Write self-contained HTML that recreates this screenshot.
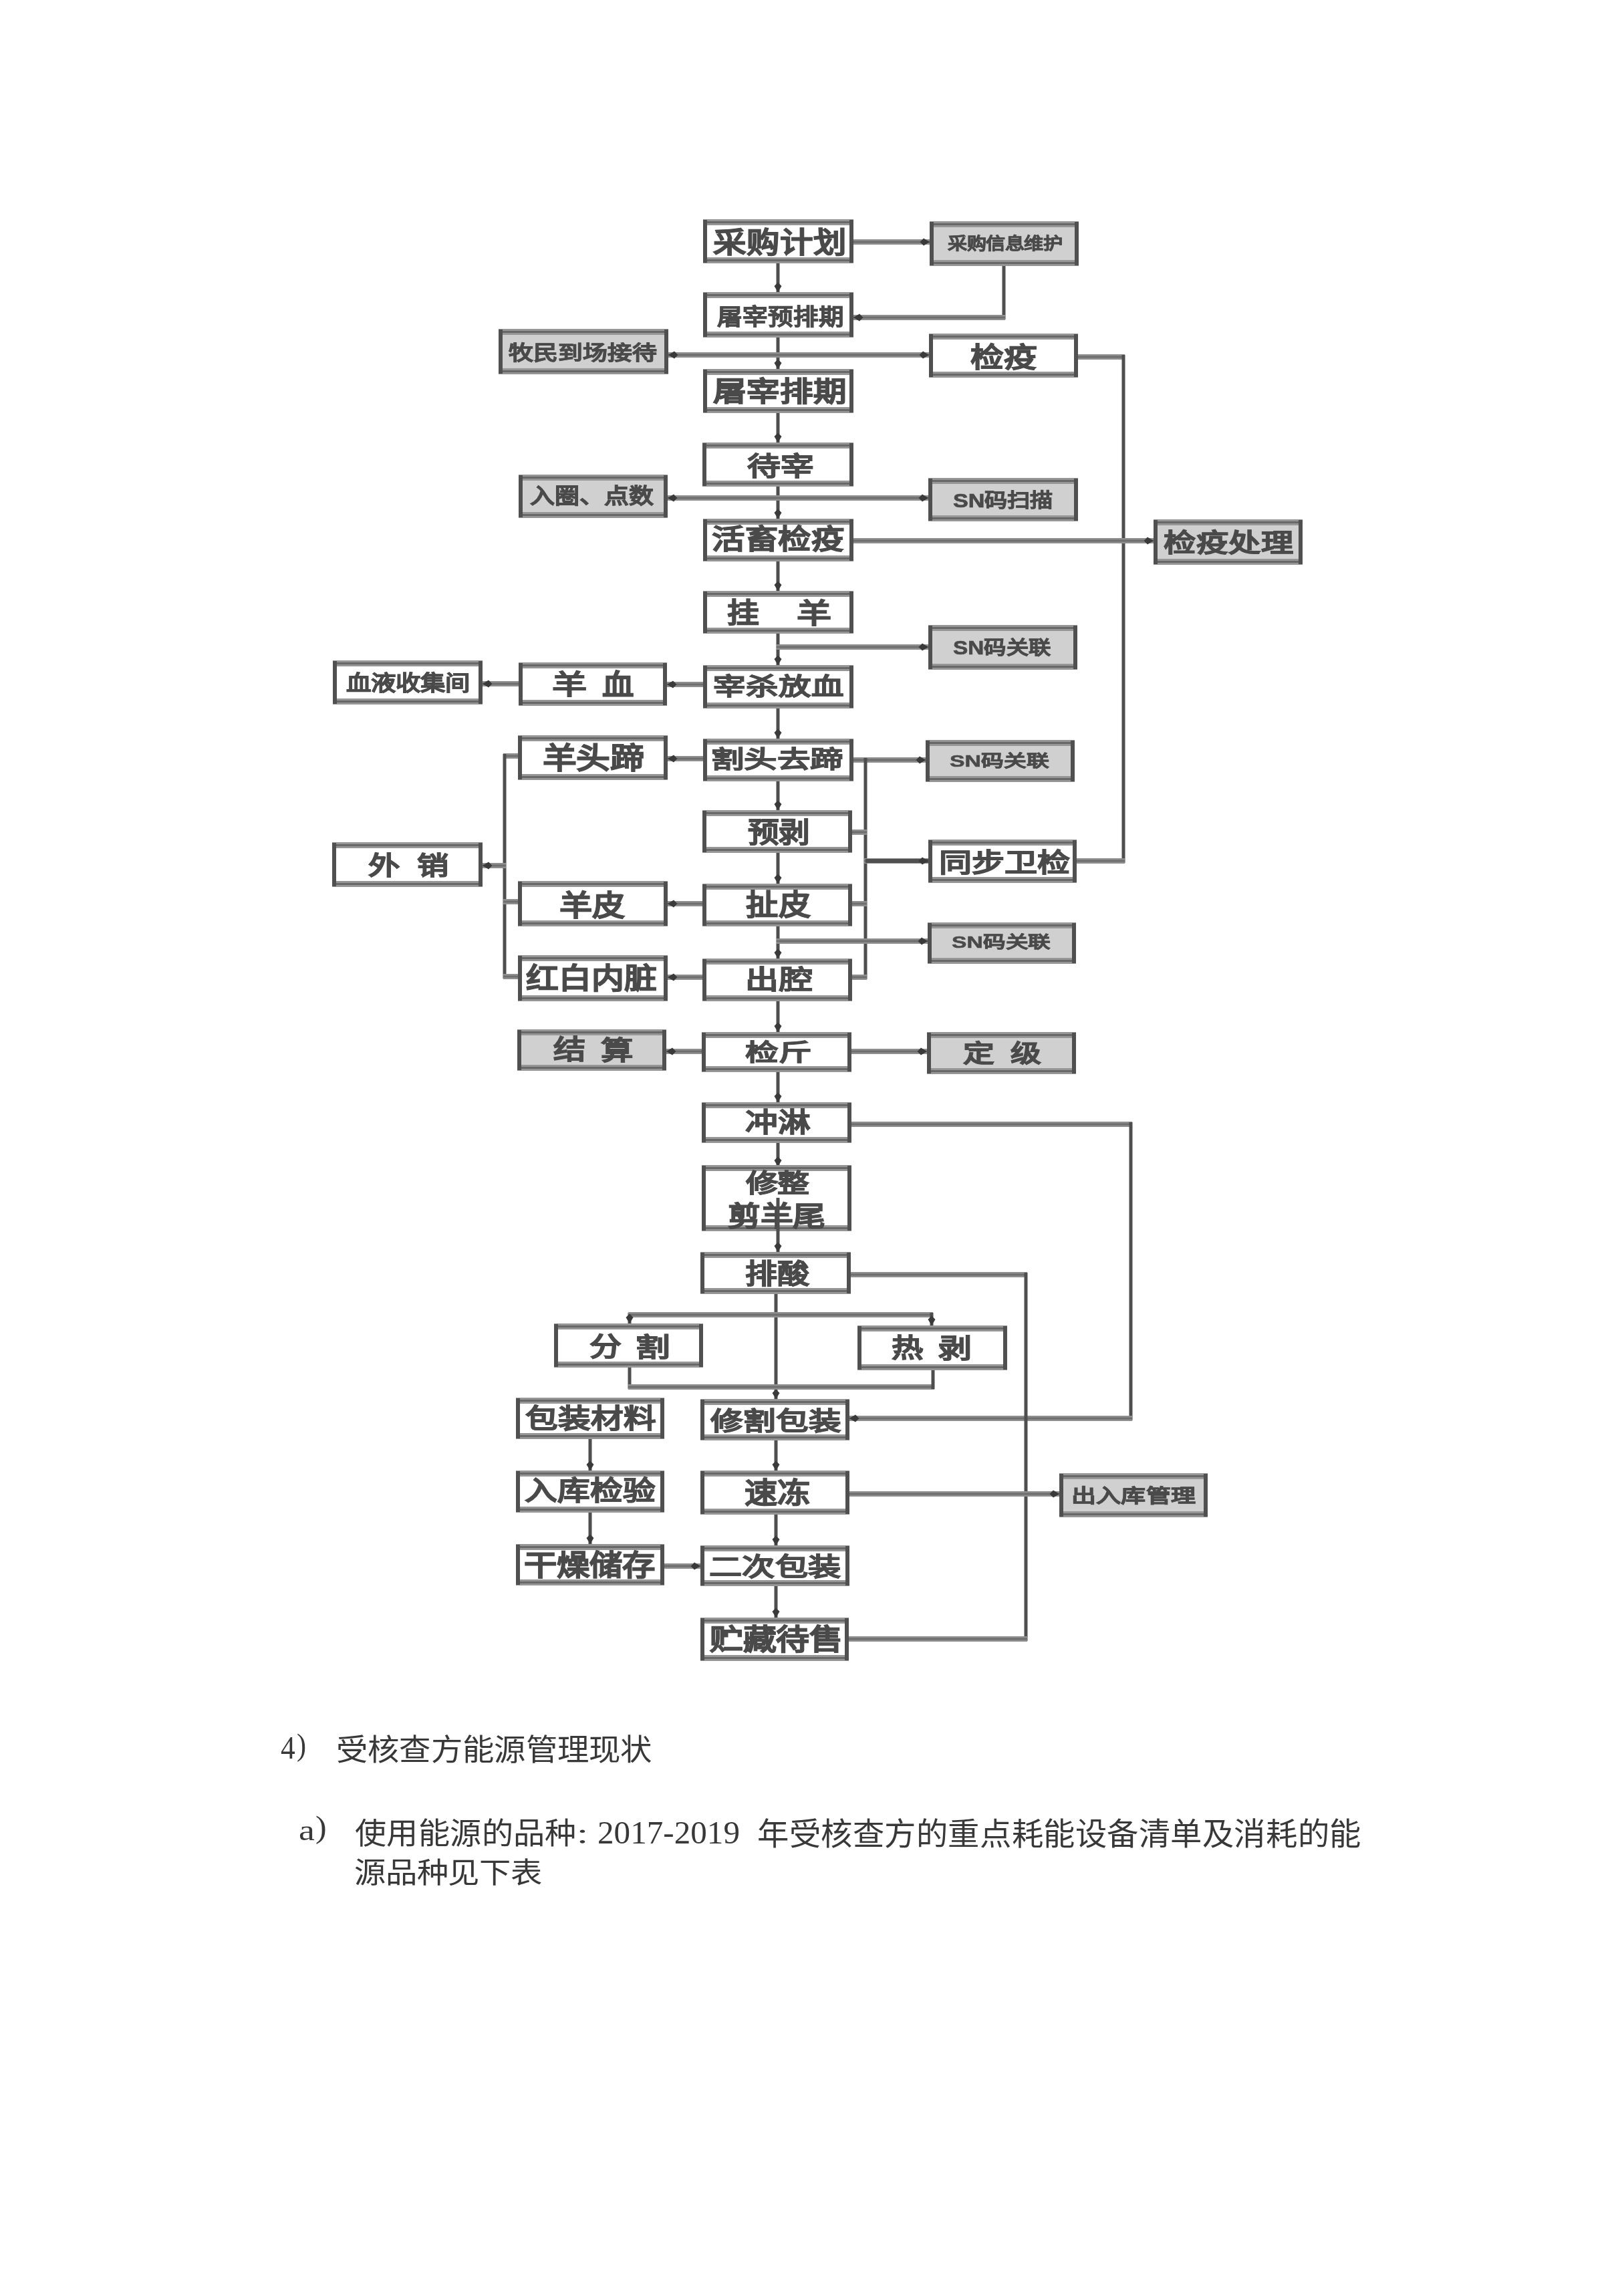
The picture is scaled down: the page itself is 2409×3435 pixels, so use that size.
<!DOCTYPE html>
<html lang="zh-CN"><head><meta charset="utf-8"><title>page</title>
<style>
html,body{margin:0;padding:0;background:#fff;}
#pg{position:relative;width:2409px;height:3435px;overflow:hidden;background:#ffffff;filter:blur(0.7px);}
svg.ln{position:absolute;left:0;top:0;}
.b{position:absolute;box-sizing:border-box;background:#fff;border-style:solid;border-color:#8c8c8c #4a4a4a #8c8c8c #4a4a4a;border-width:8px 5px 9px 5px;}
.g{background:#d0d0d0;}
.x{position:absolute;white-space:nowrap;line-height:1;transform-origin:0 0;font-family:"Liberation Sans",sans-serif;font-weight:bold;color:#4a4a4a;-webkit-text-stroke:1.2px #4a4a4a;}
.t{position:absolute;white-space:nowrap;line-height:1;transform-origin:0 0;font-family:"Liberation Serif",serif;font-weight:normal;color:#383838;}
</style></head><body><div id="pg">

<svg class="ln" width="2409" height="3435" viewBox="0 0 2409 3435"><rect x="1161.5" y="391" width="5" height="49" fill="#4e4e4e"/><rect x="1161.5" y="502" width="5" height="53" fill="#4e4e4e"/><rect x="1161.5" y="615" width="5" height="50" fill="#4e4e4e"/><rect x="1161.5" y="725" width="5" height="54" fill="#4e4e4e"/><rect x="1161.5" y="837" width="5" height="50" fill="#4e4e4e"/><rect x="1161.5" y="945" width="5" height="53" fill="#4e4e4e"/><rect x="1161.5" y="1057" width="5" height="51" fill="#4e4e4e"/><rect x="1161.5" y="1166" width="5" height="49" fill="#4e4e4e"/><rect x="1161.5" y="1273" width="5" height="52" fill="#4e4e4e"/><rect x="1161.5" y="1383" width="5" height="54" fill="#4e4e4e"/><rect x="1161.5" y="1495" width="5" height="52" fill="#4e4e4e"/><rect x="1161.5" y="1601" width="5" height="51" fill="#4e4e4e"/><rect x="1161.5" y="1707" width="5" height="41" fill="#4e4e4e"/><rect x="1161.5" y="1797" width="5" height="79" fill="#4e4e4e"/><rect x="1158.5" y="1933" width="5" height="163" fill="#4e4e4e"/><rect x="1158.5" y="2152" width="5" height="51" fill="#4e4e4e"/><rect x="1158.5" y="2263" width="5" height="52" fill="#4e4e4e"/><rect x="1158.5" y="2370" width="5" height="53" fill="#4e4e4e"/><rect x="880.5" y="2150" width="5" height="53" fill="#4e4e4e"/><rect x="880.5" y="2260" width="5" height="53" fill="#4e4e4e"/><rect x="992" y="2339" width="58" height="8" fill="#8f8f8f"/><rect x="992" y="2341.5" width="58" height="3" fill="#6e6e6e"/><rect x="1275" y="358" width="118" height="8" fill="#8f8f8f"/><rect x="1275" y="360.5" width="118" height="3" fill="#6e6e6e"/><rect x="1499.5" y="395" width="5" height="83" fill="#4e4e4e"/><rect x="1275" y="471" width="229" height="8" fill="#8f8f8f"/><rect x="1275" y="473.5" width="229" height="3" fill="#6e6e6e"/><rect x="998" y="527" width="394" height="8" fill="#8f8f8f"/><rect x="998" y="529.5" width="394" height="3" fill="#6e6e6e"/><rect x="1611" y="530" width="72" height="8" fill="#8f8f8f"/><rect x="1611" y="532.5" width="72" height="3" fill="#6e6e6e"/><rect x="1678.5" y="531" width="5" height="760" fill="#4e4e4e"/><rect x="1609" y="1284" width="74" height="8" fill="#8f8f8f"/><rect x="1609" y="1286.5" width="74" height="3" fill="#6e6e6e"/><rect x="1275" y="805" width="453" height="8" fill="#8f8f8f"/><rect x="1275" y="807.5" width="453" height="3" fill="#6e6e6e"/><rect x="997" y="741" width="394" height="8" fill="#8f8f8f"/><rect x="997" y="743.5" width="394" height="3" fill="#6e6e6e"/><rect x="1162" y="964" width="229" height="8" fill="#8f8f8f"/><rect x="1162" y="966.5" width="229" height="3" fill="#6e6e6e"/><rect x="996" y="1020" width="58" height="8" fill="#8f8f8f"/><rect x="996" y="1022.5" width="58" height="3" fill="#6e6e6e"/><rect x="720" y="1019" width="58" height="8" fill="#8f8f8f"/><rect x="720" y="1021.5" width="58" height="3" fill="#6e6e6e"/><rect x="997" y="1131" width="57" height="8" fill="#8f8f8f"/><rect x="997" y="1133.5" width="57" height="3" fill="#6e6e6e"/><rect x="1275" y="1133" width="112" height="8" fill="#8f8f8f"/><rect x="1275" y="1135.5" width="112" height="3" fill="#6e6e6e"/><rect x="1292.5" y="1134" width="5" height="331" fill="#4e4e4e"/><rect x="1273" y="1458" width="24" height="8" fill="#8f8f8f"/><rect x="1273" y="1460.5" width="24" height="3" fill="#6e6e6e"/><rect x="1273" y="1241" width="24" height="8" fill="#8f8f8f"/><rect x="1273" y="1243.5" width="24" height="3" fill="#6e6e6e"/><rect x="1273" y="1348" width="24" height="8" fill="#8f8f8f"/><rect x="1273" y="1350.5" width="24" height="3" fill="#6e6e6e"/><rect x="1293" y="1284" width="98" height="8" fill="#8f8f8f"/><rect x="1293" y="1286.5" width="98" height="3" fill="#6e6e6e"/><rect x="1162" y="1404" width="228" height="8" fill="#8f8f8f"/><rect x="1162" y="1406.5" width="228" height="3" fill="#6e6e6e"/><rect x="997" y="1348" width="56" height="8" fill="#8f8f8f"/><rect x="997" y="1350.5" width="56" height="3" fill="#6e6e6e"/><rect x="997" y="1458" width="56" height="8" fill="#8f8f8f"/><rect x="997" y="1460.5" width="56" height="3" fill="#6e6e6e"/><rect x="753" y="1127" width="24" height="8" fill="#8f8f8f"/><rect x="753" y="1129.5" width="24" height="3" fill="#6e6e6e"/><rect x="752.5" y="1128" width="5" height="336" fill="#4e4e4e"/><rect x="753" y="1457" width="24" height="8" fill="#8f8f8f"/><rect x="753" y="1459.5" width="24" height="3" fill="#6e6e6e"/><rect x="753" y="1345" width="24" height="8" fill="#8f8f8f"/><rect x="753" y="1347.5" width="24" height="3" fill="#6e6e6e"/><rect x="720" y="1291" width="37" height="8" fill="#8f8f8f"/><rect x="720" y="1293.5" width="37" height="3" fill="#6e6e6e"/><rect x="995" y="1569" width="57" height="8" fill="#8f8f8f"/><rect x="995" y="1571.5" width="57" height="3" fill="#6e6e6e"/><rect x="1272" y="1569" width="117" height="8" fill="#8f8f8f"/><rect x="1272" y="1571.5" width="117" height="3" fill="#6e6e6e"/><rect x="1272" y="1678" width="422" height="8" fill="#8f8f8f"/><rect x="1272" y="1680.5" width="422" height="3" fill="#6e6e6e"/><rect x="1689.5" y="1679" width="5" height="446" fill="#4e4e4e"/><rect x="1269" y="2118" width="425" height="8" fill="#8f8f8f"/><rect x="1269" y="2120.5" width="425" height="3" fill="#6e6e6e"/><rect x="1271" y="1903" width="266" height="8" fill="#8f8f8f"/><rect x="1271" y="1905.5" width="266" height="3" fill="#6e6e6e"/><rect x="1532.5" y="1904" width="5" height="551" fill="#4e4e4e"/><rect x="1268" y="2448" width="269" height="8" fill="#8f8f8f"/><rect x="1268" y="2450.5" width="269" height="3" fill="#6e6e6e"/><rect x="1533" y="2231" width="54" height="8" fill="#8f8f8f"/><rect x="1533" y="2233.5" width="54" height="3" fill="#6e6e6e"/><rect x="1269" y="2231" width="268" height="8" fill="#8f8f8f"/><rect x="1269" y="2233.5" width="268" height="3" fill="#6e6e6e"/><rect x="939.5" y="1964" width="5" height="19" fill="#4e4e4e"/><rect x="940" y="1963" width="456" height="8" fill="#8f8f8f"/><rect x="940" y="1965.5" width="456" height="3" fill="#6e6e6e"/><rect x="1391.5" y="1964" width="5" height="22" fill="#4e4e4e"/><rect x="939.5" y="2043" width="5" height="35" fill="#4e4e4e"/><rect x="940" y="2071" width="458" height="8" fill="#8f8f8f"/><rect x="940" y="2073.5" width="458" height="3" fill="#6e6e6e"/><rect x="1393.5" y="2047" width="5" height="31" fill="#4e4e4e"/><rect x="1295" y="1285" width="94" height="6" fill="#505050"/><polygon points="1164.0,437.0 1158.5,428.0 1164.0,422.6 1169.5,428.0" fill="#3a3a3a"/><polygon points="1164.0,552.0 1158.5,543.0 1164.0,537.6 1169.5,543.0" fill="#3a3a3a"/><polygon points="1164.0,662.0 1158.5,653.0 1164.0,647.6 1169.5,653.0" fill="#3a3a3a"/><polygon points="1164.0,776.0 1158.5,767.0 1164.0,761.6 1169.5,767.0" fill="#3a3a3a"/><polygon points="1164.0,884.0 1158.5,875.0 1164.0,869.6 1169.5,875.0" fill="#3a3a3a"/><polygon points="1164.0,995.0 1158.5,986.0 1164.0,980.6 1169.5,986.0" fill="#3a3a3a"/><polygon points="1164.0,1105.0 1158.5,1096.0 1164.0,1090.6 1169.5,1096.0" fill="#3a3a3a"/><polygon points="1164.0,1212.0 1158.5,1203.0 1164.0,1197.6 1169.5,1203.0" fill="#3a3a3a"/><polygon points="1164.0,1322.0 1158.5,1313.0 1164.0,1307.6 1169.5,1313.0" fill="#3a3a3a"/><polygon points="1164.0,1434.0 1158.5,1425.0 1164.0,1419.6 1169.5,1425.0" fill="#3a3a3a"/><polygon points="1164.0,1544.0 1158.5,1535.0 1164.0,1529.6 1169.5,1535.0" fill="#3a3a3a"/><polygon points="1164.0,1649.0 1158.5,1640.0 1164.0,1634.6 1169.5,1640.0" fill="#3a3a3a"/><polygon points="1164.0,1745.0 1158.5,1736.0 1164.0,1730.6 1169.5,1736.0" fill="#3a3a3a"/><polygon points="1164.0,1873.0 1158.5,1864.0 1164.0,1858.6 1169.5,1864.0" fill="#3a3a3a"/><polygon points="1161.0,2093.0 1155.5,2084.0 1161.0,2078.6 1166.5,2084.0" fill="#3a3a3a"/><polygon points="1161.0,2200.0 1155.5,2191.0 1161.0,2185.6 1166.5,2191.0" fill="#3a3a3a"/><polygon points="1161.0,2312.0 1155.5,2303.0 1161.0,2297.6 1166.5,2303.0" fill="#3a3a3a"/><polygon points="1161.0,2420.0 1155.5,2411.0 1161.0,2405.6 1166.5,2411.0" fill="#3a3a3a"/><polygon points="883.0,2200.0 877.5,2191.0 883.0,2185.6 888.5,2191.0" fill="#3a3a3a"/><polygon points="883.0,2310.0 877.5,2301.0 883.0,2295.6 888.5,2301.0" fill="#3a3a3a"/><polygon points="1048.0,2343.0 1039.0,2348.5 1033.6,2343.0 1039.0,2337.5" fill="#3a3a3a"/><polygon points="1391.0,362.0 1382.0,367.5 1376.6,362.0 1382.0,356.5" fill="#3a3a3a"/><polygon points="1277.0,475.0 1286.0,469.5 1291.4,475.0 1286.0,480.5" fill="#3a3a3a"/><polygon points="1390.0,531.0 1381.0,536.5 1375.6,531.0 1381.0,525.5" fill="#3a3a3a"/><polygon points="1000.0,531.0 1009.0,525.5 1014.4,531.0 1009.0,536.5" fill="#3a3a3a"/><polygon points="1726.0,809.0 1717.0,814.5 1711.6,809.0 1717.0,803.5" fill="#3a3a3a"/><polygon points="1389.0,745.0 1380.0,750.5 1374.6,745.0 1380.0,739.5" fill="#3a3a3a"/><polygon points="999.0,745.0 1008.0,739.5 1013.4,745.0 1008.0,750.5" fill="#3a3a3a"/><polygon points="1389.0,968.0 1380.0,973.5 1374.6,968.0 1380.0,962.5" fill="#3a3a3a"/><polygon points="998.0,1024.0 1007.0,1018.5 1012.4,1024.0 1007.0,1029.5" fill="#3a3a3a"/><polygon points="722.0,1023.0 731.0,1017.5 736.4,1023.0 731.0,1028.5" fill="#3a3a3a"/><polygon points="999.0,1135.0 1008.0,1129.5 1013.4,1135.0 1008.0,1140.5" fill="#3a3a3a"/><polygon points="1385.0,1137.0 1376.0,1142.5 1370.6,1137.0 1376.0,1131.5" fill="#3a3a3a"/><polygon points="1389.0,1288.0 1380.0,1293.5 1374.6,1288.0 1380.0,1282.5" fill="#3a3a3a"/><polygon points="1388.0,1408.0 1379.0,1413.5 1373.6,1408.0 1379.0,1402.5" fill="#3a3a3a"/><polygon points="999.0,1352.0 1008.0,1346.5 1013.4,1352.0 1008.0,1357.5" fill="#3a3a3a"/><polygon points="999.0,1462.0 1008.0,1456.5 1013.4,1462.0 1008.0,1467.5" fill="#3a3a3a"/><polygon points="722.0,1295.0 731.0,1289.5 736.4,1295.0 731.0,1300.5" fill="#3a3a3a"/><polygon points="997.0,1573.0 1006.0,1567.5 1011.4,1573.0 1006.0,1578.5" fill="#3a3a3a"/><polygon points="1387.0,1573.0 1378.0,1578.5 1372.6,1573.0 1378.0,1567.5" fill="#3a3a3a"/><polygon points="1271.0,2122.0 1280.0,2116.5 1285.4,2122.0 1280.0,2127.5" fill="#3a3a3a"/><polygon points="1585.0,2235.0 1576.0,2240.5 1570.6,2235.0 1576.0,2229.5" fill="#3a3a3a"/><polygon points="1394.0,1983.0 1388.5,1974.0 1394.0,1968.6 1399.5,1974.0" fill="#3a3a3a"/><polygon points="942.0,1980.0 936.5,1971.0 942.0,1965.6 947.5,1971.0" fill="#3a3a3a"/></svg>
<svg class="ln" width="2409" height="3435" viewBox="0 0 2409 3435"><rect x="1052" y="328" width="225" height="66" fill="#ffffff"/><rect x="1052" y="328" width="225" height="9" fill="#969696"/><rect x="1052" y="331" width="225" height="3" fill="#686868"/><rect x="1052" y="385" width="225" height="9" fill="#969696"/><rect x="1052" y="388" width="225" height="3" fill="#686868"/><rect x="1052" y="329" width="6" height="64" fill="#505050"/><rect x="1271" y="329" width="6" height="64" fill="#505050"/><rect x="1052" y="437" width="225" height="68" fill="#ffffff"/><rect x="1052" y="437" width="225" height="9" fill="#969696"/><rect x="1052" y="440" width="225" height="3" fill="#686868"/><rect x="1052" y="496" width="225" height="9" fill="#969696"/><rect x="1052" y="499" width="225" height="3" fill="#686868"/><rect x="1052" y="438" width="6" height="66" fill="#505050"/><rect x="1271" y="438" width="6" height="66" fill="#505050"/><rect x="1052" y="552" width="225" height="66" fill="#ffffff"/><rect x="1052" y="552" width="225" height="9" fill="#969696"/><rect x="1052" y="555" width="225" height="3" fill="#686868"/><rect x="1052" y="609" width="225" height="9" fill="#969696"/><rect x="1052" y="612" width="225" height="3" fill="#686868"/><rect x="1052" y="553" width="6" height="64" fill="#505050"/><rect x="1271" y="553" width="6" height="64" fill="#505050"/><rect x="1051" y="662" width="226" height="66" fill="#ffffff"/><rect x="1051" y="662" width="226" height="9" fill="#969696"/><rect x="1051" y="665" width="226" height="3" fill="#686868"/><rect x="1051" y="719" width="226" height="9" fill="#969696"/><rect x="1051" y="722" width="226" height="3" fill="#686868"/><rect x="1051" y="663" width="6" height="64" fill="#505050"/><rect x="1271" y="663" width="6" height="64" fill="#505050"/><rect x="1052" y="776" width="225" height="64" fill="#ffffff"/><rect x="1052" y="776" width="225" height="9" fill="#969696"/><rect x="1052" y="779" width="225" height="3" fill="#686868"/><rect x="1052" y="831" width="225" height="9" fill="#969696"/><rect x="1052" y="834" width="225" height="3" fill="#686868"/><rect x="1052" y="777" width="6" height="62" fill="#505050"/><rect x="1271" y="777" width="6" height="62" fill="#505050"/><rect x="1052" y="884" width="225" height="64" fill="#ffffff"/><rect x="1052" y="884" width="225" height="9" fill="#969696"/><rect x="1052" y="887" width="225" height="3" fill="#686868"/><rect x="1052" y="939" width="225" height="9" fill="#969696"/><rect x="1052" y="942" width="225" height="3" fill="#686868"/><rect x="1052" y="885" width="6" height="62" fill="#505050"/><rect x="1271" y="885" width="6" height="62" fill="#505050"/><rect x="1052" y="995" width="225" height="65" fill="#ffffff"/><rect x="1052" y="995" width="225" height="9" fill="#969696"/><rect x="1052" y="998" width="225" height="3" fill="#686868"/><rect x="1052" y="1051" width="225" height="9" fill="#969696"/><rect x="1052" y="1054" width="225" height="3" fill="#686868"/><rect x="1052" y="996" width="6" height="63" fill="#505050"/><rect x="1271" y="996" width="6" height="63" fill="#505050"/><rect x="1052" y="1105" width="225" height="64" fill="#ffffff"/><rect x="1052" y="1105" width="225" height="9" fill="#969696"/><rect x="1052" y="1108" width="225" height="3" fill="#686868"/><rect x="1052" y="1160" width="225" height="9" fill="#969696"/><rect x="1052" y="1163" width="225" height="3" fill="#686868"/><rect x="1052" y="1106" width="6" height="62" fill="#505050"/><rect x="1271" y="1106" width="6" height="62" fill="#505050"/><rect x="1051" y="1212" width="224" height="64" fill="#ffffff"/><rect x="1051" y="1212" width="224" height="9" fill="#969696"/><rect x="1051" y="1215" width="224" height="3" fill="#686868"/><rect x="1051" y="1267" width="224" height="9" fill="#969696"/><rect x="1051" y="1270" width="224" height="3" fill="#686868"/><rect x="1051" y="1213" width="6" height="62" fill="#505050"/><rect x="1269" y="1213" width="6" height="62" fill="#505050"/><rect x="1051" y="1322" width="224" height="64" fill="#ffffff"/><rect x="1051" y="1322" width="224" height="9" fill="#969696"/><rect x="1051" y="1325" width="224" height="3" fill="#686868"/><rect x="1051" y="1377" width="224" height="9" fill="#969696"/><rect x="1051" y="1380" width="224" height="3" fill="#686868"/><rect x="1051" y="1323" width="6" height="62" fill="#505050"/><rect x="1269" y="1323" width="6" height="62" fill="#505050"/><rect x="1051" y="1434" width="224" height="64" fill="#ffffff"/><rect x="1051" y="1434" width="224" height="9" fill="#969696"/><rect x="1051" y="1437" width="224" height="3" fill="#686868"/><rect x="1051" y="1489" width="224" height="9" fill="#969696"/><rect x="1051" y="1492" width="224" height="3" fill="#686868"/><rect x="1051" y="1435" width="6" height="62" fill="#505050"/><rect x="1269" y="1435" width="6" height="62" fill="#505050"/><rect x="1050" y="1544" width="224" height="60" fill="#ffffff"/><rect x="1050" y="1544" width="224" height="9" fill="#969696"/><rect x="1050" y="1547" width="224" height="3" fill="#686868"/><rect x="1050" y="1595" width="224" height="9" fill="#969696"/><rect x="1050" y="1598" width="224" height="3" fill="#686868"/><rect x="1050" y="1545" width="6" height="58" fill="#505050"/><rect x="1268" y="1545" width="6" height="58" fill="#505050"/><rect x="1050" y="1649" width="224" height="61" fill="#ffffff"/><rect x="1050" y="1649" width="224" height="9" fill="#969696"/><rect x="1050" y="1652" width="224" height="3" fill="#686868"/><rect x="1050" y="1701" width="224" height="9" fill="#969696"/><rect x="1050" y="1704" width="224" height="3" fill="#686868"/><rect x="1050" y="1650" width="6" height="59" fill="#505050"/><rect x="1268" y="1650" width="6" height="59" fill="#505050"/><rect x="1050" y="1743" width="224" height="99" fill="#ffffff"/><rect x="1050" y="1743" width="224" height="9" fill="#969696"/><rect x="1050" y="1746" width="224" height="3" fill="#686868"/><rect x="1050" y="1833" width="224" height="9" fill="#969696"/><rect x="1050" y="1836" width="224" height="3" fill="#686868"/><rect x="1050" y="1744" width="6" height="97" fill="#505050"/><rect x="1268" y="1744" width="6" height="97" fill="#505050"/><rect x="1048" y="1873" width="225" height="63" fill="#ffffff"/><rect x="1048" y="1873" width="225" height="9" fill="#969696"/><rect x="1048" y="1876" width="225" height="3" fill="#686868"/><rect x="1048" y="1927" width="225" height="9" fill="#969696"/><rect x="1048" y="1930" width="225" height="3" fill="#686868"/><rect x="1048" y="1874" width="6" height="61" fill="#505050"/><rect x="1267" y="1874" width="6" height="61" fill="#505050"/><rect x="1048" y="2093" width="223" height="62" fill="#ffffff"/><rect x="1048" y="2093" width="223" height="9" fill="#969696"/><rect x="1048" y="2096" width="223" height="3" fill="#686868"/><rect x="1048" y="2146" width="223" height="9" fill="#969696"/><rect x="1048" y="2149" width="223" height="3" fill="#686868"/><rect x="1048" y="2094" width="6" height="60" fill="#505050"/><rect x="1265" y="2094" width="6" height="60" fill="#505050"/><rect x="1048" y="2200" width="223" height="66" fill="#ffffff"/><rect x="1048" y="2200" width="223" height="9" fill="#969696"/><rect x="1048" y="2203" width="223" height="3" fill="#686868"/><rect x="1048" y="2257" width="223" height="9" fill="#969696"/><rect x="1048" y="2260" width="223" height="3" fill="#686868"/><rect x="1048" y="2201" width="6" height="64" fill="#505050"/><rect x="1265" y="2201" width="6" height="64" fill="#505050"/><rect x="1048" y="2312" width="223" height="61" fill="#ffffff"/><rect x="1048" y="2312" width="223" height="9" fill="#969696"/><rect x="1048" y="2315" width="223" height="3" fill="#686868"/><rect x="1048" y="2364" width="223" height="9" fill="#969696"/><rect x="1048" y="2367" width="223" height="3" fill="#686868"/><rect x="1048" y="2313" width="6" height="59" fill="#505050"/><rect x="1265" y="2313" width="6" height="59" fill="#505050"/><rect x="1048" y="2420" width="222" height="65" fill="#ffffff"/><rect x="1048" y="2420" width="222" height="9" fill="#969696"/><rect x="1048" y="2423" width="222" height="3" fill="#686868"/><rect x="1048" y="2476" width="222" height="9" fill="#969696"/><rect x="1048" y="2479" width="222" height="3" fill="#686868"/><rect x="1048" y="2421" width="6" height="63" fill="#505050"/><rect x="1264" y="2421" width="6" height="63" fill="#505050"/><rect x="1391" y="331" width="223" height="67" fill="#d0d0d0"/><rect x="1391" y="331" width="223" height="9" fill="#969696"/><rect x="1391" y="334" width="223" height="3" fill="#686868"/><rect x="1391" y="389" width="223" height="9" fill="#969696"/><rect x="1391" y="392" width="223" height="3" fill="#686868"/><rect x="1391" y="332" width="6" height="65" fill="#505050"/><rect x="1608" y="332" width="6" height="65" fill="#505050"/><rect x="1390" y="499" width="223" height="66" fill="#ffffff"/><rect x="1390" y="499" width="223" height="9" fill="#969696"/><rect x="1390" y="502" width="223" height="3" fill="#686868"/><rect x="1390" y="556" width="223" height="9" fill="#969696"/><rect x="1390" y="559" width="223" height="3" fill="#686868"/><rect x="1390" y="500" width="6" height="64" fill="#505050"/><rect x="1607" y="500" width="6" height="64" fill="#505050"/><rect x="1389" y="715" width="224" height="65" fill="#d0d0d0"/><rect x="1389" y="715" width="224" height="9" fill="#969696"/><rect x="1389" y="718" width="224" height="3" fill="#686868"/><rect x="1389" y="771" width="224" height="9" fill="#969696"/><rect x="1389" y="774" width="224" height="3" fill="#686868"/><rect x="1389" y="716" width="6" height="63" fill="#505050"/><rect x="1607" y="716" width="6" height="63" fill="#505050"/><rect x="1389" y="935" width="223" height="67" fill="#d0d0d0"/><rect x="1389" y="935" width="223" height="9" fill="#969696"/><rect x="1389" y="938" width="223" height="3" fill="#686868"/><rect x="1389" y="993" width="223" height="9" fill="#969696"/><rect x="1389" y="996" width="223" height="3" fill="#686868"/><rect x="1389" y="936" width="6" height="65" fill="#505050"/><rect x="1606" y="936" width="6" height="65" fill="#505050"/><rect x="1385" y="1107" width="223" height="63" fill="#d0d0d0"/><rect x="1385" y="1107" width="223" height="9" fill="#969696"/><rect x="1385" y="1110" width="223" height="3" fill="#686868"/><rect x="1385" y="1161" width="223" height="9" fill="#969696"/><rect x="1385" y="1164" width="223" height="3" fill="#686868"/><rect x="1385" y="1108" width="6" height="61" fill="#505050"/><rect x="1602" y="1108" width="6" height="61" fill="#505050"/><rect x="1389" y="1256" width="222" height="65" fill="#ffffff"/><rect x="1389" y="1256" width="222" height="9" fill="#969696"/><rect x="1389" y="1259" width="222" height="3" fill="#686868"/><rect x="1389" y="1312" width="222" height="9" fill="#969696"/><rect x="1389" y="1315" width="222" height="3" fill="#686868"/><rect x="1389" y="1257" width="6" height="63" fill="#505050"/><rect x="1605" y="1257" width="6" height="63" fill="#505050"/><rect x="1388" y="1380" width="222" height="62" fill="#d0d0d0"/><rect x="1388" y="1380" width="222" height="9" fill="#969696"/><rect x="1388" y="1383" width="222" height="3" fill="#686868"/><rect x="1388" y="1433" width="222" height="9" fill="#969696"/><rect x="1388" y="1436" width="222" height="3" fill="#686868"/><rect x="1388" y="1381" width="6" height="60" fill="#505050"/><rect x="1604" y="1381" width="6" height="60" fill="#505050"/><rect x="1387" y="1544" width="223" height="63" fill="#d0d0d0"/><rect x="1387" y="1544" width="223" height="9" fill="#969696"/><rect x="1387" y="1547" width="223" height="3" fill="#686868"/><rect x="1387" y="1598" width="223" height="9" fill="#969696"/><rect x="1387" y="1601" width="223" height="3" fill="#686868"/><rect x="1387" y="1545" width="6" height="61" fill="#505050"/><rect x="1604" y="1545" width="6" height="61" fill="#505050"/><rect x="1726" y="777" width="223" height="68" fill="#d0d0d0"/><rect x="1726" y="777" width="223" height="9" fill="#969696"/><rect x="1726" y="780" width="223" height="3" fill="#686868"/><rect x="1726" y="836" width="223" height="9" fill="#969696"/><rect x="1726" y="839" width="223" height="3" fill="#686868"/><rect x="1726" y="778" width="6" height="66" fill="#505050"/><rect x="1943" y="778" width="6" height="66" fill="#505050"/><rect x="1585" y="2204" width="222" height="66" fill="#d0d0d0"/><rect x="1585" y="2204" width="222" height="9" fill="#969696"/><rect x="1585" y="2207" width="222" height="3" fill="#686868"/><rect x="1585" y="2261" width="222" height="9" fill="#969696"/><rect x="1585" y="2264" width="222" height="3" fill="#686868"/><rect x="1585" y="2205" width="6" height="64" fill="#505050"/><rect x="1801" y="2205" width="6" height="64" fill="#505050"/><rect x="746" y="492" width="254" height="68" fill="#d0d0d0"/><rect x="746" y="492" width="254" height="9" fill="#969696"/><rect x="746" y="495" width="254" height="3" fill="#686868"/><rect x="746" y="551" width="254" height="9" fill="#969696"/><rect x="746" y="554" width="254" height="3" fill="#686868"/><rect x="746" y="493" width="6" height="66" fill="#505050"/><rect x="994" y="493" width="6" height="66" fill="#505050"/><rect x="776" y="710" width="223" height="65" fill="#d0d0d0"/><rect x="776" y="710" width="223" height="9" fill="#969696"/><rect x="776" y="713" width="223" height="3" fill="#686868"/><rect x="776" y="766" width="223" height="9" fill="#969696"/><rect x="776" y="769" width="223" height="3" fill="#686868"/><rect x="776" y="711" width="6" height="63" fill="#505050"/><rect x="993" y="711" width="6" height="63" fill="#505050"/><rect x="776" y="991" width="222" height="65" fill="#ffffff"/><rect x="776" y="991" width="222" height="9" fill="#969696"/><rect x="776" y="994" width="222" height="3" fill="#686868"/><rect x="776" y="1047" width="222" height="9" fill="#969696"/><rect x="776" y="1050" width="222" height="3" fill="#686868"/><rect x="776" y="992" width="6" height="63" fill="#505050"/><rect x="992" y="992" width="6" height="63" fill="#505050"/><rect x="775" y="1100" width="224" height="67" fill="#ffffff"/><rect x="775" y="1100" width="224" height="9" fill="#969696"/><rect x="775" y="1103" width="224" height="3" fill="#686868"/><rect x="775" y="1158" width="224" height="9" fill="#969696"/><rect x="775" y="1161" width="224" height="3" fill="#686868"/><rect x="775" y="1101" width="6" height="65" fill="#505050"/><rect x="993" y="1101" width="6" height="65" fill="#505050"/><rect x="775" y="1318" width="224" height="68" fill="#ffffff"/><rect x="775" y="1318" width="224" height="9" fill="#969696"/><rect x="775" y="1321" width="224" height="3" fill="#686868"/><rect x="775" y="1377" width="224" height="9" fill="#969696"/><rect x="775" y="1380" width="224" height="3" fill="#686868"/><rect x="775" y="1319" width="6" height="66" fill="#505050"/><rect x="993" y="1319" width="6" height="66" fill="#505050"/><rect x="775" y="1429" width="224" height="69" fill="#ffffff"/><rect x="775" y="1429" width="224" height="9" fill="#969696"/><rect x="775" y="1432" width="224" height="3" fill="#686868"/><rect x="775" y="1489" width="224" height="9" fill="#969696"/><rect x="775" y="1492" width="224" height="3" fill="#686868"/><rect x="775" y="1430" width="6" height="67" fill="#505050"/><rect x="993" y="1430" width="6" height="67" fill="#505050"/><rect x="774" y="1540" width="223" height="62" fill="#d0d0d0"/><rect x="774" y="1540" width="223" height="9" fill="#969696"/><rect x="774" y="1543" width="223" height="3" fill="#686868"/><rect x="774" y="1593" width="223" height="9" fill="#969696"/><rect x="774" y="1596" width="223" height="3" fill="#686868"/><rect x="774" y="1541" width="6" height="60" fill="#505050"/><rect x="991" y="1541" width="6" height="60" fill="#505050"/><rect x="772" y="2091" width="222" height="62" fill="#ffffff"/><rect x="772" y="2091" width="222" height="9" fill="#969696"/><rect x="772" y="2094" width="222" height="3" fill="#686868"/><rect x="772" y="2144" width="222" height="9" fill="#969696"/><rect x="772" y="2147" width="222" height="3" fill="#686868"/><rect x="772" y="2092" width="6" height="60" fill="#505050"/><rect x="988" y="2092" width="6" height="60" fill="#505050"/><rect x="772" y="2200" width="222" height="63" fill="#ffffff"/><rect x="772" y="2200" width="222" height="9" fill="#969696"/><rect x="772" y="2203" width="222" height="3" fill="#686868"/><rect x="772" y="2254" width="222" height="9" fill="#969696"/><rect x="772" y="2257" width="222" height="3" fill="#686868"/><rect x="772" y="2201" width="6" height="61" fill="#505050"/><rect x="988" y="2201" width="6" height="61" fill="#505050"/><rect x="772" y="2310" width="222" height="62" fill="#ffffff"/><rect x="772" y="2310" width="222" height="9" fill="#969696"/><rect x="772" y="2313" width="222" height="3" fill="#686868"/><rect x="772" y="2363" width="222" height="9" fill="#969696"/><rect x="772" y="2366" width="222" height="3" fill="#686868"/><rect x="772" y="2311" width="6" height="60" fill="#505050"/><rect x="988" y="2311" width="6" height="60" fill="#505050"/><rect x="498" y="988" width="224" height="66" fill="#ffffff"/><rect x="498" y="988" width="224" height="9" fill="#969696"/><rect x="498" y="991" width="224" height="3" fill="#686868"/><rect x="498" y="1045" width="224" height="9" fill="#969696"/><rect x="498" y="1048" width="224" height="3" fill="#686868"/><rect x="498" y="989" width="6" height="64" fill="#505050"/><rect x="716" y="989" width="6" height="64" fill="#505050"/><rect x="497" y="1260" width="225" height="67" fill="#ffffff"/><rect x="497" y="1260" width="225" height="9" fill="#969696"/><rect x="497" y="1263" width="225" height="3" fill="#686868"/><rect x="497" y="1318" width="225" height="9" fill="#969696"/><rect x="497" y="1321" width="225" height="3" fill="#686868"/><rect x="497" y="1261" width="6" height="65" fill="#505050"/><rect x="716" y="1261" width="6" height="65" fill="#505050"/><rect x="829" y="1980" width="223" height="66" fill="#ffffff"/><rect x="829" y="1980" width="223" height="9" fill="#969696"/><rect x="829" y="1983" width="223" height="3" fill="#686868"/><rect x="829" y="2037" width="223" height="9" fill="#969696"/><rect x="829" y="2040" width="223" height="3" fill="#686868"/><rect x="829" y="1981" width="6" height="64" fill="#505050"/><rect x="1046" y="1981" width="6" height="64" fill="#505050"/><rect x="1283" y="1983" width="224" height="67" fill="#ffffff"/><rect x="1283" y="1983" width="224" height="9" fill="#969696"/><rect x="1283" y="1986" width="224" height="3" fill="#686868"/><rect x="1283" y="2041" width="224" height="9" fill="#969696"/><rect x="1283" y="2044" width="224" height="3" fill="#686868"/><rect x="1283" y="1984" width="6" height="65" fill="#505050"/><rect x="1501" y="1984" width="6" height="65" fill="#505050"/></svg>
<div class="x" style="left:1066.5px;top:342.4px;font-size:42.71px;transform:scaleX(1.159);-webkit-text-stroke-width:1.02px">采购计划</div>
<div class="x" style="left:1072.6px;top:457.7px;font-size:33.67px;transform:scaleX(1.114);-webkit-text-stroke-width:0.81px">屠宰预排期</div>
<div class="x" style="left:1066.5px;top:565.8px;font-size:40.82px;transform:scaleX(1.216);-webkit-text-stroke-width:0.98px">屠宰排期</div>
<div class="x" style="left:1117.5px;top:677.8px;font-size:39.18px;transform:scaleX(1.270);-webkit-text-stroke-width:0.94px">待宰</div>
<div class="x" style="left:1065.0px;top:786.8px;font-size:40.82px;transform:scaleX(1.209);-webkit-text-stroke-width:0.98px">活畜检疫</div>
<div class="x" style="left:1088.0px;top:897.4px;font-size:42.11px;transform:scaleX(1.138);-webkit-text-stroke-width:1.01px">挂</div>
<div class="x" style="left:1191.9px;top:897.8px;font-size:41.24px;transform:scaleX(1.265);-webkit-text-stroke-width:0.99px">羊</div>
<div class="x" style="left:1067.1px;top:1009.7px;font-size:36.73px;transform:scaleX(1.320);-webkit-text-stroke-width:0.88px">宰杀放血</div>
<div class="x" style="left:1063.5px;top:1118.7px;font-size:36.08px;transform:scaleX(1.372);-webkit-text-stroke-width:0.87px">割头去蹄</div>
<div class="x" style="left:1119.1px;top:1224.6px;font-size:41.49px;transform:scaleX(1.123);-webkit-text-stroke-width:1.00px">预剥</div>
<div class="x" style="left:1116.0px;top:1333.4px;font-size:42.71px;transform:scaleX(1.129);-webkit-text-stroke-width:1.02px">扯皮</div>
<div class="x" style="left:1114.5px;top:1447.4px;font-size:38.54px;transform:scaleX(1.297);-webkit-text-stroke-width:0.93px">出腔</div>
<div class="x" style="left:1115.0px;top:1557.7px;font-size:35.71px;transform:scaleX(1.393);-webkit-text-stroke-width:0.86px">检斤</div>
<div class="x" style="left:1115.0px;top:1660.4px;font-size:39.58px;transform:scaleX(1.231);-webkit-text-stroke-width:0.95px">冲淋</div>
<div class="x" style="left:1116.0px;top:1752.4px;font-size:37.50px;transform:scaleX(1.279);-webkit-text-stroke-width:0.90px">修整</div>
<div class="x" style="left:1089.0px;top:1799.8px;font-size:41.24px;transform:scaleX(1.188);-webkit-text-stroke-width:0.99px">剪羊尾</div>
<div class="x" style="left:1115.0px;top:1886.4px;font-size:40.62px;transform:scaleX(1.181);-webkit-text-stroke-width:0.97px">排酸</div>
<div class="x" style="left:1063.0px;top:2107.8px;font-size:37.76px;transform:scaleX(1.288);-webkit-text-stroke-width:0.91px">修割包装</div>
<div class="x" style="left:1114.0px;top:2212.9px;font-size:43.30px;transform:scaleX(1.137);-webkit-text-stroke-width:1.04px">速冻</div>
<div class="x" style="left:1061.0px;top:2325.8px;font-size:37.76px;transform:scaleX(1.301);-webkit-text-stroke-width:0.91px">二次包装</div>
<div class="x" style="left:1061.5px;top:2432.4px;font-size:43.30px;transform:scaleX(1.152);-webkit-text-stroke-width:1.04px">贮藏待售</div>
<div class="x" style="left:1417.7px;top:352.5px;font-size:24.49px;transform:scaleX(1.191);-webkit-text-stroke-width:0.59px">采购信息维护</div>
<div class="x" style="left:1452.0px;top:514.8px;font-size:40.82px;transform:scaleX(1.219);-webkit-text-stroke-width:0.98px">检疫</div>
<div class="x" style="left:1426.0px;top:735.3px;font-size:29.17px;transform:scaleX(1.172);-webkit-text-stroke-width:0.70px">SN码扫描</div>
<div class="x" style="left:1426.0px;top:955.3px;font-size:28.87px;transform:scaleX(1.155);-webkit-text-stroke-width:0.69px">SN码关联</div>
<div class="x" style="left:1421.0px;top:1127.2px;font-size:24.74px;transform:scaleX(1.366);-webkit-text-stroke-width:0.59px">SN码关联</div>
<div class="x" style="left:1404.6px;top:1270.8px;font-size:39.18px;transform:scaleX(1.253);-webkit-text-stroke-width:0.94px">同步卫检</div>
<div class="x" style="left:1424.0px;top:1398.2px;font-size:24.74px;transform:scaleX(1.357);-webkit-text-stroke-width:0.59px">SN码关联</div>
<div class="x" style="left:1441.1px;top:1558.7px;font-size:36.73px;transform:scaleX(1.276);-webkit-text-stroke-width:0.88px">定</div>
<div class="x" style="left:1511.5px;top:1558.7px;font-size:36.73px;transform:scaleX(1.250);-webkit-text-stroke-width:0.88px">级</div>
<div class="x" style="left:1741.0px;top:793.8px;font-size:37.76px;transform:scaleX(1.278);-webkit-text-stroke-width:0.91px">检疫处理</div>
<div class="x" style="left:1602.7px;top:2224.3px;font-size:28.87px;transform:scaleX(1.282);-webkit-text-stroke-width:0.69px">出入库管理</div>
<div class="x" style="left:760.6px;top:513.3px;font-size:29.90px;transform:scaleX(1.233);-webkit-text-stroke-width:0.72px">牧民到场接待</div>
<div class="x" style="left:793.3px;top:727.3px;font-size:31.96px;transform:scaleX(1.156);-webkit-text-stroke-width:0.77px">入圈、点数</div>
<div class="x" style="left:825.9px;top:1004.8px;font-size:40.21px;transform:scaleX(1.298);-webkit-text-stroke-width:0.96px">羊</div>
<div class="x" style="left:900.6px;top:1004.4px;font-size:43.33px;transform:scaleX(1.093);-webkit-text-stroke-width:1.04px">血</div>
<div class="x" style="left:812.0px;top:1112.9px;font-size:44.33px;transform:scaleX(1.147);-webkit-text-stroke-width:1.06px">羊头蹄</div>
<div class="x" style="left:837.0px;top:1333.9px;font-size:43.30px;transform:scaleX(1.137);-webkit-text-stroke-width:1.04px">羊皮</div>
<div class="x" style="left:787.0px;top:1443.4px;font-size:42.86px;transform:scaleX(1.140);-webkit-text-stroke-width:1.03px">红白内脏</div>
<div class="x" style="left:827.5px;top:1551.4px;font-size:39.58px;transform:scaleX(1.223);-webkit-text-stroke-width:0.95px">结</div>
<div class="x" style="left:898.5px;top:1551.8px;font-size:39.18px;transform:scaleX(1.236);-webkit-text-stroke-width:0.94px">算</div>
<div class="x" style="left:785.5px;top:2102.8px;font-size:39.80px;transform:scaleX(1.222);-webkit-text-stroke-width:0.96px">包装材料</div>
<div class="x" style="left:785.0px;top:2210.8px;font-size:39.80px;transform:scaleX(1.222);-webkit-text-stroke-width:0.96px">入库检验</div>
<div class="x" style="left:784.0px;top:2321.4px;font-size:43.30px;transform:scaleX(1.140);-webkit-text-stroke-width:1.04px">干燥储存</div>
<div class="x" style="left:517.9px;top:1007.3px;font-size:31.25px;transform:scaleX(1.195);-webkit-text-stroke-width:0.75px">血液收集间</div>
<div class="x" style="left:550.5px;top:1277.4px;font-size:37.50px;transform:scaleX(1.265);-webkit-text-stroke-width:0.90px">外</div>
<div class="x" style="left:624.1px;top:1277.4px;font-size:37.50px;transform:scaleX(1.263);-webkit-text-stroke-width:0.90px">销</div>
<div class="x" style="left:882.0px;top:1995.6px;font-size:38.95px;transform:scaleX(1.230);-webkit-text-stroke-width:0.93px">分</div>
<div class="x" style="left:951.4px;top:1996.8px;font-size:38.14px;transform:scaleX(1.355);-webkit-text-stroke-width:0.92px">割</div>
<div class="x" style="left:1334.1px;top:1998.4px;font-size:38.14px;transform:scaleX(1.243);-webkit-text-stroke-width:0.92px">热</div>
<div class="x" style="left:1403.5px;top:1997.6px;font-size:39.36px;transform:scaleX(1.270);-webkit-text-stroke-width:0.94px">剥</div>
<svg class="ln" width="2409" height="3435" viewBox="0 0 2409 3435"><rect x="1161.5" y="1792" width="5" height="50" fill="#4e4e4e"/></svg>
<div class="t" style="left:420.1px;top:2590.1px;font-size:49.23px;transform:scaleX(0.883)">4</div>
<div class="t" style="left:443.7px;top:2586.5px;font-size:46.67px;transform:scaleX(0.907)">)</div>
<div class="t" style="left:503.2px;top:2596.9px;font-size:45.16px;transform:scaleX(1.050)">受核查方能源管理现状</div>
<div class="t" style="left:446.8px;top:2717.2px;font-size:43.75px;transform:scaleX(1.231)">a</div>
<div class="t" style="left:471.5px;top:2710.6px;font-size:45.56px;transform:scaleX(1.098)">)</div>
<div class="t" style="left:531.1px;top:2720.9px;font-size:45.74px;transform:scaleX(1.030)">使用能源的品种</div>
<div class="t" style="left:858.5px;top:2732.2px;font-size:30.77px;transform:scaleX(1.625)">：</div>
<div class="t" style="left:894.0px;top:2717.8px;font-size:48.53px;transform:scaleX(1.013)">2017-2019</div>
<div class="t" style="left:1132.6px;top:2720.9px;font-size:46.81px;transform:scaleX(1.012)">年受核查方的重点耗能设备清单及消耗的能</div>
<div class="t" style="left:530.1px;top:2781.4px;font-size:43.48px;transform:scaleX(1.088)">源品种见下表</div>
</div></body></html>
